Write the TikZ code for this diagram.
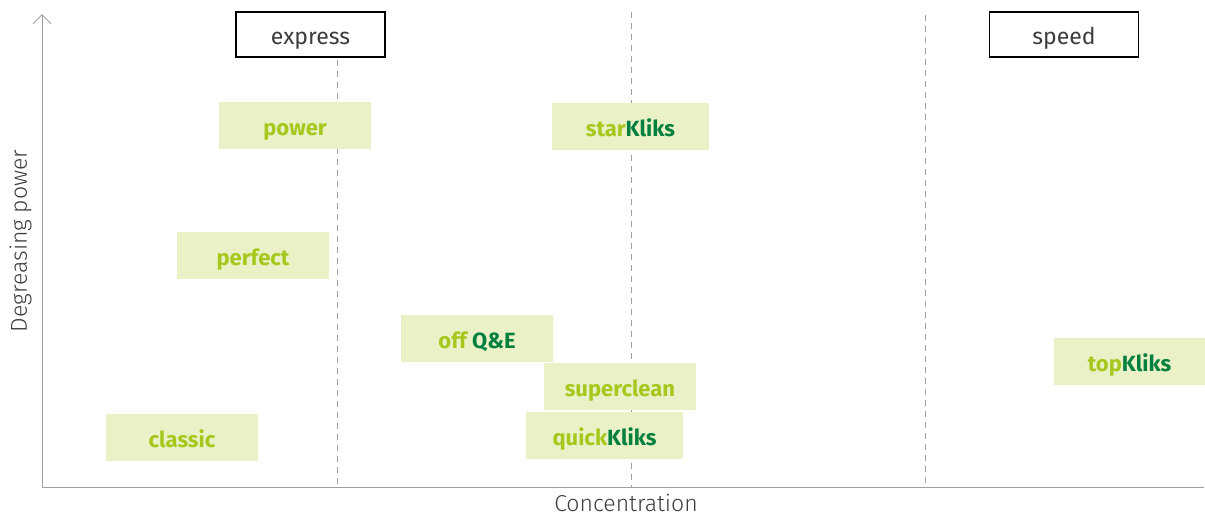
\documentclass[tikz,border=0pt]{standalone}
\usepackage{fontspec}
\setmainfont{Fira Sans}
\newfontfamily\lightfont{Fira Sans Light}
\usetikzlibrary{arrows.meta}
\definecolor{boxgreen}{RGB}{235, 241, 199}
\definecolor{limegreen}{RGB}{166, 200, 28}
\definecolor{darkgreen}{RGB}{0, 128, 62}
\definecolor{axisgray}{RGB}{160, 160, 160}
\definecolor{textgray}{RGB}{60, 60, 60}
\tikzset{>=latex,
  product/.style={fill=boxgreen, minimum width=152pt, minimum height=47pt, inner sep=0pt,
    text height=19pt, text depth=0pt,
    font=\bfseries\fontsize{22}{26}\selectfont, text=limegreen},
  tier/.style={draw=black, line width=1.1pt, fill=white, minimum width=149pt, minimum height=45pt, inner sep=0pt,
    text height=19pt, text depth=0pt,
    font=\fontsize{23}{27}\selectfont, text=textgray},
  axislabel/.style={text=textgray, font=\lightfont\fontsize{23}{27}\selectfont, anchor=base, inner sep=0pt},
  guide/.style={axisgray, dashed, dash pattern=on 6pt off 5pt, line width=0.8pt}}
\newcommand{\kl}{\textcolor{darkgreen}{Kliks}}

\begin{document}
\begin{tikzpicture}[x=1pt, y=-1pt]
\useasboundingbox (0,0) rectangle (1205,515);
% guides
\draw[guide] (337,60) -- (337,487);
\draw[guide] (631,12) -- (631,487);
\draw[guide] (925,15) -- (925,487);
% axes
\draw[axisgray, line width=1pt] (42,487) -- (1204,487);
\draw[axisgray, line width=1pt, -{Straight Barb[length=9pt, width=18pt]}] (42,487) -- (42,14);
\node[axislabel] (xlab) at (626,511) {Concentration};
\node[axislabel, rotate=90] (ylab) at (27,241) {Degreasing power};
% tiers
\node[tier] (express) at (310.5,34.5) {express};
\node[tier] (speed) at (1064,34.5) {speed};
% products
\node[product] (power) at (295,125.5) {power};
\node[product, minimum width=157pt] (star) at (630.5,126.5) {star\kl};
\node[product] (perfect) at (253,255.5) {perfect};
\node[product] (offqe) at (477,338.5) {off \textcolor{darkgreen}{Q\&E}};
\node[product, minimum width=151pt] (top) at (1129.5,361.5) {top\kl};
\node[product] (superclean) at (620,386.5) {superclean};
\node[product] (classic) at (182,437.5) {classic};
\node[product, minimum width=157pt] (quick) at (604.5,435.5) {quick\kl};
\end{tikzpicture}
\end{document}
